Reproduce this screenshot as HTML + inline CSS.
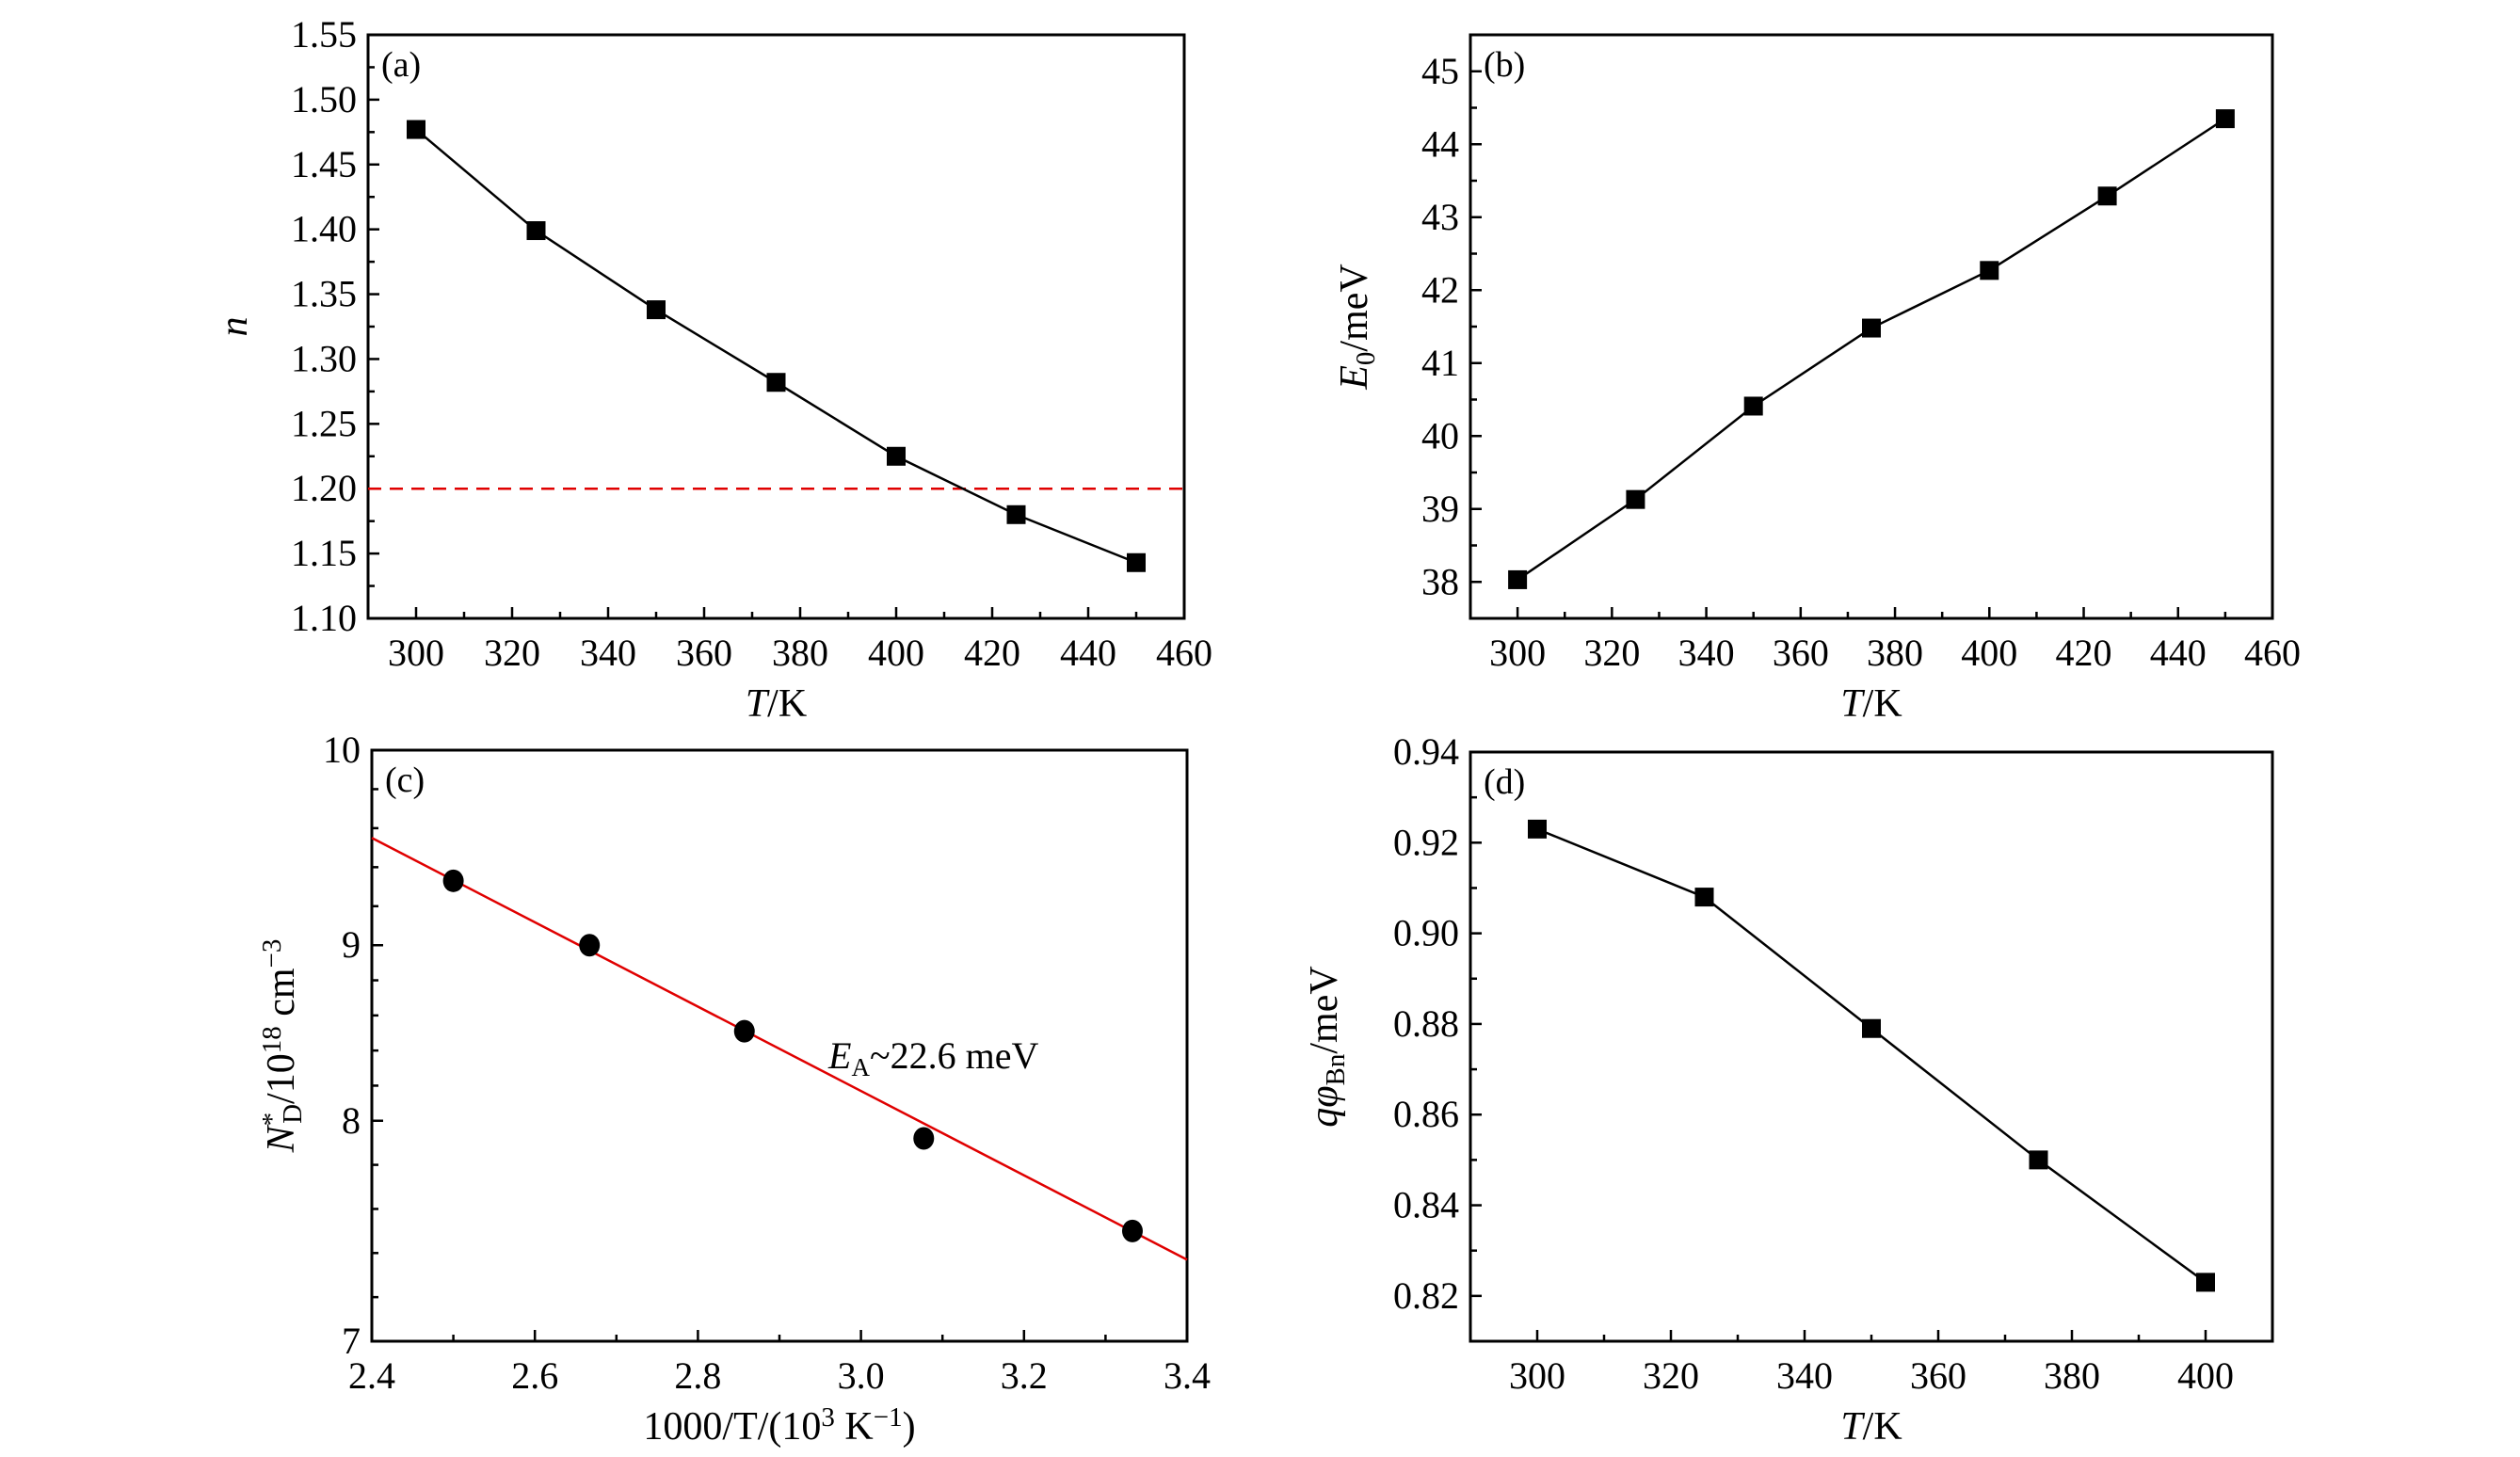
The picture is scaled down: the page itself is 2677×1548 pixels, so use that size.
<!DOCTYPE html>
<html><head><meta charset="utf-8"><style>
body{margin:0;background:#fff;}
svg text{font-family:"Liberation Serif",serif;fill:#000;}
</style></head><body>
<svg id="fig" width="2677" height="1543" viewBox="0 0 2677 1543" xmlns="http://www.w3.org/2000/svg"></svg>
<script>
const aX=[300,325,350,375,400,425,450];
const aY=[1.477,1.399,1.338,1.282,1.225,1.180,1.143];
const aRef=1.20;
const bX=[300,325,350,375,400,425,450];
const bY=[38.03,39.13,40.41,41.48,42.27,43.29,44.35];
const cX=[2.5,2.667,2.857,3.077,3.333];
const cY=[9.33,9.0,8.51,7.92,7.50];
const cFitX=[2.4,3.4];
const cFitY=[9.55,7.37];
const dX=[300,325,350,375,400];
const dY=[0.923,0.908,0.879,0.850,0.823];
const tTicks=[300,320,340,360,380,400,420,440,460];
const dTicks=[300,320,340,360,380,400];
const aTicks=[1.10,1.15,1.20,1.25,1.30,1.35,1.40,1.45,1.50,1.55];
const bTicks=[38,39,40,41,42,43,44,45];
const cXTicks=[2.4,2.6,2.8,3.0,3.2,3.4];
const cYTicks=[7,8,9,10];
const dYTicks=[0.82,0.84,0.86,0.88,0.90,0.92,0.94];

const NS="http://www.w3.org/2000/svg";
const svg=document.getElementById('fig');
function mk(tag,attrs,parent,txt){const e=document.createElementNS(NS,tag);for(const k in attrs)e.setAttribute(k,attrs[k]);if(txt!==undefined)e.textContent=txt;(parent||svg).appendChild(e);return e;}
function lin(d0,d1,r0,r1){return v=>r0+(v-d0)/(d1-d0)*(r1-r0);}
const cFr=[0,0.373,0.67,1];
function cScale(top,bot){return v=>{let i=Math.min(2,Math.max(0,Math.floor(v-7)));const f=cFr[i]+(v-7-i)*(cFr[i+1]-cFr[i]);return bot-f*(bot-top);};}

function panel(o){
  const g=mk('g',{});
  
  
  const {L,R,T,B}=o;
  const sx=lin(o.xd[0],o.xd[1],L,R);
  const sy=o.sy||lin(o.yd[0],o.yd[1],B,T);
  const xt=mk('g',{},g);
  o.xticks.forEach((v,i)=>{const x=sx(v);mk('line',{x1:x,x2:x,y1:B,y2:B-12,stroke:'#000','stroke-width':2.5},xt);
    mk('text',{x:x,y:B+50,'font-size':40,'text-anchor':'middle'},xt,o.xfmt(v));
    if(i<o.xticks.length-1){const xm=sx((v+o.xticks[i+1])/2);mk('line',{x1:xm,x2:xm,y1:B,y2:B-7,stroke:'#000','stroke-width':2.5},xt);}});
  const yt=mk('g',{},g);
  o.yticks.forEach((v,i)=>{const y=sy(v);mk('line',{x1:L,x2:L+12,y1:y,y2:y,stroke:'#000','stroke-width':2.5},yt);
    mk('text',{x:L-12,y:y+13,'font-size':40,'text-anchor':'end'},yt,o.yfmt(v));
    if(o.yminor&&i<o.yticks.length-1){o.yminor(v,o.yticks[i+1]).forEach(m=>{const ym=sy(m);mk('line',{x1:L,x2:L+7,y1:ym,y2:ym,stroke:'#000','stroke-width':2.5},yt);});}});
  if(o.ylowMinor){const ym=sy(o.ylowMinor);if(ym<B-3)mk('line',{x1:L,x2:L+7,y1:ym,y2:ym,stroke:'#000','stroke-width':2.5},yt);}
  const fr=mk('rect',{x:L,y:T,width:R-L,height:B-T,fill:'none',stroke:'#000','stroke-width':3},g);
  
  const lb=mk('text',{x:L+14,y:T+44,'font-size':38},g,o.label);
  
  const xl=mk('text',{x:(L+R)/2,y:B+104,'font-size':42,'text-anchor':'middle'},g);
  xl.innerHTML=o.xtitle;
  const yl=mk('text',{transform:`translate(${o.ytx},${(T+B)/2}) rotate(-90)`,'font-size':42,'text-anchor':'middle'},g);
  yl.innerHTML=o.ytitle;
  o.extra&&o.extra(g,sx,sy);
  if(o.line){const pts=o.X.map((x,i)=>sx(x)+','+sy(o.Y[i])).join(' ');
    const pl=mk('polyline',{points:pts,fill:'none',stroke:'#000','stroke-width':2.5},g);
    }
  o.X.forEach((x,i)=>{let m;
    if(o.circle)m=mk('ellipse',{cx:sx(x),cy:sy(o.Y[i]),rx:11,ry:12,fill:'#000'},g);
    else m=mk('rect',{x:sx(x)-10,y:sy(o.Y[i])-10,width:20,height:20,fill:'#000'},g);
    });
}
const TK='<tspan font-style="italic">T</tspan>/K';
const half=(a,b)=>[(a+b)/2];
panel({name:'panel-a',L:391,R:1258,T:37,B:657,xd:[290,460],yd:[1.10,1.55],xticks:tTicks,yticks:aTicks,
  xfmt:v=>String(v),yfmt:v=>v.toFixed(2),yminor:half,label:'(a)',xtitle:TK,ytitle:'<tspan font-style="italic">n</tspan>',ytx:262,
  X:aX,Y:aY,line:true,
  extra:(g,sx,sy)=>{const l=mk('line',{x1:391,x2:1258,y1:sy(aRef),y2:sy(aRef),stroke:'#e00000','stroke-width':2.5,'stroke-dasharray':'14,9'},g);
    }});
panel({name:'panel-b',L:1562,R:2414,T:37,B:657,xd:[290,460],yd:[37.5,45.5],xticks:tTicks,yticks:bTicks,
  xfmt:v=>String(v),yfmt:v=>String(v),yminor:half,ylowMinor:37.5,label:'(b)',xtitle:TK,
  ytitle:'<tspan font-style="italic">E</tspan><tspan font-size="29" dy="8">0</tspan><tspan dy="-8">/meV</tspan>',ytx:1452,
  X:bX,Y:bY,line:true});
panel({name:'panel-c',L:395,R:1261,T:797,B:1425,xd:[2.4,3.4],xticks:cXTicks,yticks:cYTicks,
  sy:cScale(797,1425),xfmt:v=>v.toFixed(1),yfmt:v=>String(v),
  yminor:(a,b)=>[a+0.2,a+0.4,a+0.6,a+0.8],label:'(c)',xtitle:'1000/T/(10<tspan font-size="29" dy="-14">3</tspan><tspan dy="14"> K</tspan><tspan font-size="29" dy="-14">−1</tspan><tspan dy="14">)</tspan>',
  ytitle:'<tspan font-style="italic">N</tspan><tspan font-size="29" dy="-14">*</tspan><tspan font-size="29" dx="-12" dy="22">D</tspan><tspan dy="-8">/10</tspan><tspan font-size="29" dy="-14">18</tspan><tspan dy="14"> cm</tspan><tspan font-size="29" dy="-14">−3</tspan>',ytx:312,
  X:cX,Y:cY,circle:true,
  extra:(g,sx,sy)=>{const l=mk('line',{x1:sx(cFitX[0]),x2:sx(cFitX[1]),y1:sy(cFitY[0]),y2:sy(cFitY[1]),stroke:'#e00000','stroke-width':2.5},g);
    
    const t=mk('text',{x:880,y:1135,'font-size':40},g);
    t.innerHTML='<tspan font-style="italic">E</tspan><tspan font-size="27" dy="8">A</tspan><tspan dy="-8">~22.6 meV</tspan>';
    }});
panel({name:'panel-d',L:1562,R:2414,T:799,B:1425,xd:[290,410],yd:[0.81,0.94],xticks:dTicks,yticks:dYTicks,
  xfmt:v=>String(v),yfmt:v=>v.toFixed(2),yminor:half,ylowMinor:0.81,label:'(d)',xtitle:TK,
  ytitle:'<tspan font-style="italic">qφ</tspan><tspan font-size="29" dy="8">Bn</tspan><tspan dy="-8">/meV</tspan>',ytx:1420,
  X:dX,Y:dY,line:true});
</script>
</body></html>
